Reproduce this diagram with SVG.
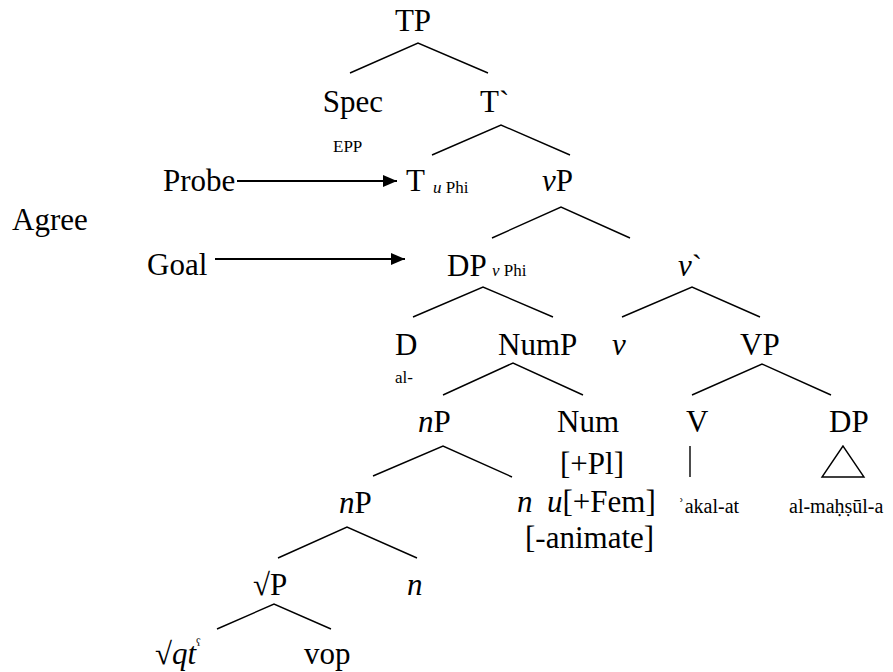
<svg xmlns="http://www.w3.org/2000/svg" width="893" height="672" viewBox="0 0 893 672">
<defs>
<style>
text{font-family:"Liberation Serif","Times New Roman",serif;fill:#000}
.m{font-size:31px}
.s{font-size:17px}
.w{font-size:20px}
.i{font-style:italic}
.e{stroke:#000;stroke-width:1.4;fill:none}
</style>
<marker id="ah" markerUnits="userSpaceOnUse" markerWidth="16" markerHeight="14" refX="14" refY="6" orient="auto">
<path d="M0,0 L14,6 L0,12 Z" fill="#000"/>
</marker>
</defs>
<rect width="893" height="672" fill="#fff"/>
<g id="connectors">
<polyline class="e" points="350,73 418,43 488,73"/>
<polyline class="e" points="432,155 501,125 570,155"/>
<polyline class="e" points="492,238 561,207 630,238"/>
<polyline class="e" points="413,317 483,287 553,317"/>
<polyline class="e" points="622,317 692,287 760,317"/>
<polyline class="e" points="443,395 513,363 583,395"/>
<polyline class="e" points="692,395 762,364 831,395"/>
<polyline class="e" points="373,476 443,446 512,477"/>
<polyline class="e" points="278,558 347,527 417,558"/>
<polyline class="e" points="217,629 274,604 331,629"/>
<line class="e" x1="690" y1="446" x2="690" y2="477"/>
<polygon class="e" points="843,446 822,477 864,477"/>
<line x1="237" y1="181" x2="397" y2="181" stroke="#000" stroke-width="2.2" marker-end="url(#ah)"/>
<line x1="215" y1="259" x2="405" y2="259" stroke="#000" stroke-width="2.2" marker-end="url(#ah)"/>
</g>
<g id="TP"><text class="m" x="413" y="31" text-anchor="middle">TP</text></g>
<g id="Spec"><text class="m" x="353" y="112" text-anchor="middle">Spec</text><text class="s" x="333" y="152">EPP</text></g>
<g id="Tbar"><text class="m" x="480" y="112">T`</text></g>
<g id="T"><text class="m" x="406" y="191">T</text><text class="s" x="433" y="193"><tspan class="i">u</tspan> Phi</text></g>
<g id="vP"><text class="m" x="542" y="191"><tspan class="i">v</tspan>P</text></g>
<g id="Probe"><text class="m" x="163" y="191">Probe</text></g>
<g id="Agree"><text class="m" x="12" y="230">Agree</text></g>
<g id="Goal"><text class="m" x="147" y="275">Goal</text></g>
<g id="DP"><text class="m" x="447" y="276">DP</text><text class="s" x="492" y="276"><tspan class="i">v</tspan> Phi</text></g>
<g id="vbar"><text class="m" x="678" y="276"><tspan class="i">v</tspan>`</text></g>
<g id="D"><text class="m" x="395" y="355">D</text><text class="s" x="395" y="383">al-</text></g>
<g id="NumP"><text class="m" x="498" y="355">NumP</text></g>
<g id="v"><text class="m i" x="612" y="355">v</text></g>
<g id="VP"><text class="m" x="740" y="355">VP</text></g>
<g id="nP1"><text class="m" x="418" y="432"><tspan class="i">n</tspan>P</text></g>
<g id="Num"><text class="m" x="557" y="432">Num</text><text class="m" x="560" y="474">[+Pl]</text></g>
<g id="V"><text class="m" x="686" y="432">V</text><text class="w" x="678" y="513">ʾakal-at</text></g>
<g id="DP2"><text class="m" x="829" y="432">DP</text><text class="w" x="789" y="513">al-maḥṣūl-a</text></g>
<g id="n1"><text class="m i" x="517" y="512">n</text><text class="m" x="547" y="512"><tspan class="i">u</tspan>[+Fem]</text><text class="m" x="525" y="548">[-animate]</text></g>
<g id="nP2"><text class="m" x="339" y="513"><tspan class="i">n</tspan>P</text></g>
<g id="rootP"><text class="m" x="253" y="595">√P</text></g>
<g id="n2"><text class="m i" x="407" y="595">n</text></g>
<g id="root"><text class="m" x="155" y="664">√<tspan class="i">qt</tspan><tspan class="s" dy="-14">ˁ</tspan></text></g>
<g id="vop"><text class="m" x="304" y="664">vop</text></g>
</svg>
